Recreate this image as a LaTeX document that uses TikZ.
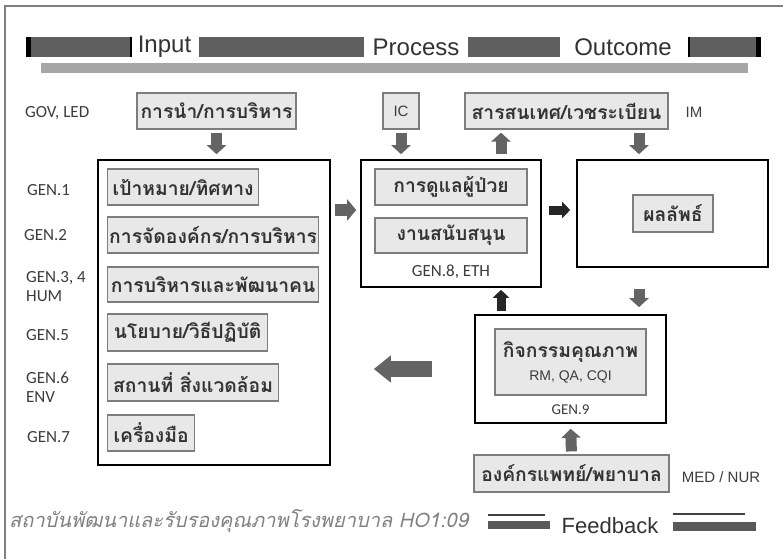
\documentclass[tikz,border=0pt]{standalone}
\usepackage{fontspec}
\usepackage{tikz}
\usetikzlibrary{arrows.meta,positioning,calc}
\newfontfamily\thaifont[Script=Thai]{Loma}
\newfontfamily\thaislant[Script=Thai,FakeSlant=0.22]{Loma}
\newfontfamily\genfont{Carlito}
\newfontfamily\helvfont{Liberation Sans}
\definecolor{boxgrey}{RGB}{232,232,232}
\definecolor{edgegrey}{RGB}{125,125,125}
\definecolor{arrowgrey}{RGB}{100,100,100}
\definecolor{bargrey}{RGB}{95,95,95}
\definecolor{textgrey}{RGB}{60,60,60}

\begin{document}
\begin{tikzpicture}[x=1pt, y=-1pt,
    thbox/.style={draw=edgegrey, fill=boxgrey, line width=1.2pt, inner sep=0pt,
                  minimum height=36pt, font=\thaifont\bfseries\fontsize{19.3}{21}\selectfont, text=black!80},
    frame/.style={draw=black, line width=1.6pt, fill=white, inner sep=0pt},
    gen/.style={anchor=west, font=\genfont\fontsize{17}{19}\selectfont, text=textgrey,
                align=left, inner sep=0pt},
    helv/.style={font=\helvfont\fontsize{15}{17}\selectfont, text=textgrey, inner sep=0pt},
    blk/.style={line width=11pt, arrowgrey, -{Triangle[width=19pt,length=9pt]}},
    bigblk/.style={line width=16pt, arrowgrey, -{Triangle[width=26pt,length=17pt]}},
    darkblk/.style={line width=9pt, black!85, -{Triangle[width=16pt,length=8pt]}},
    topbar/.style={fill=bargrey, draw=none},
    toptext/.style={font=\helvfont\fontsize{24}{26}\selectfont, text=black!80, inner sep=0pt}
]
\useasboundingbox (0,0) rectangle (783,559);
\draw[gray, line width=1.2pt] (5,559) -- (5,6) -- (783,6);

% title bar
\fill[topbar] (26,37) rectangle (132,57);
\fill[black] (26,37) rectangle (31,57);
\fill[black] (130,37) rectangle (132,57);
\node[toptext] (input)   at (164.5,47) {Input};
\fill[topbar] (199,37) rectangle (364,57);
\node[toptext] (process) at (416,47)   {Process};
\fill[topbar] (468,37) rectangle (560,57);
\node[toptext] (outcome) at (623,47)   {Outcome};
\fill[topbar] (688,37) rectangle (761,57);
\fill[black] (688,37) rectangle (690,57);
\fill[black] (756,37) rectangle (761,57);
\fill[gray!70] (41,63) rectangle (748,73);

% frames
\node[frame, minimum width=232pt, minimum height=305pt] (inputs) at (214,312.5) {};
\node[frame, minimum width=180pt, minimum height=127pt] (proc)   at (451,223.5) {};
\node[frame, minimum width=191pt, minimum height=107pt] (result) at (672.5,213.5) {};
\node[frame, minimum width=191pt, minimum height=108pt] (qbox)   at (570.5,369) {};

% top row
\node[thbox, minimum width=159pt] (lead) at (216.5,111) {การนำ/การบริหาร};
\node[thbox, minimum width=36pt, font=\helvfont\fontsize{15}{17}\selectfont, text=textgrey] (ic) at (401,111) {IC};
\node[thbox, minimum width=203pt] (info) at (566.5,111) {สารสนเทศ/เวชระเบียน};
\node[helv] (im) at (694,112) {IM};
\node[gen] (gov) at (25,113) {GOV, LED};

% input side
\node[thbox, anchor=west, minimum width=151pt] (goal)    at (107,187)   {เป้าหมาย/ทิศทาง};
\node[thbox, anchor=west, minimum width=211pt] (orgmgmt) at (107,235)   {การจัดองค์กร/การบริหาร};
\node[thbox, anchor=west, minimum width=211pt, minimum height=35pt] (hrd) at (107,284.5) {การบริหารและพัฒนาคน};
\node[thbox, anchor=west, minimum width=160pt, minimum height=37pt] (policy) at (107,332.5) {นโยบาย/วิธีปฏิบัติ};
\node[thbox, anchor=west, minimum width=171pt, minimum height=37pt] (envbox) at (107,382.5) {สถานที่ สิ่งแวดล้อม};
\node[thbox, anchor=west, minimum width=87pt] (tools)   at (107,433)   {เครื่องมือ};

\node[gen] (gen1) at (27,190) {GEN.1};
\node[gen] (gen2) at (24,235) {GEN.2};
\node[gen] (gen34) at (26,287) {GEN.3, 4\\HUM};
\node[gen] (gen5) at (26,335) {GEN.5};
\node[gen] (gen6) at (26,387) {GEN.6\\ENV};
\node[gen] (gen7) at (27,437) {GEN.7};

% process and outcome
\node[thbox, minimum width=152pt] (care)    at (451,187)   {การดูแลผู้ป่วย};
\node[thbox, minimum width=152pt, minimum height=35pt] (support) at (451,235.5) {งานสนับสนุน};
\node[gen, anchor=center] (gen8) at (451,272) {GEN.8, ETH};
\node[thbox, minimum width=80pt, minimum height=37pt] (res) at (673,213.5) {ผลลัพธ์};

% quality
\node[thbox, minimum width=151pt, minimum height=66pt, align=center] (qact) at (570.5,362)
    {กิจกรรมคุณภาพ\\[2pt]{\helvfont\mdseries\fontsize{14}{16}\selectfont\color{textgrey}RM, QA, CQI}};
\node[gen, anchor=center, font=\genfont\fontsize{15}{17}\selectfont] (gen9) at (570.5,410) {GEN.9};
\node[thbox, minimum width=195pt, minimum height=37pt] (org) at (571.5,473.5) {องค์กรแพทย์/พยาบาล};
\node[helv] (mednur) at (721,477) {MED / NUR};

% arrows
\coordinate (upx) at (501,0);
\coordinate (dnx) at (639,0);
\coordinate (midrow) at (0,210);
\draw[blk, shorten <=3pt, shorten >=5pt] (lead.south) -- (lead.south |- inputs.north);
\draw[blk, shorten <=3pt, shorten >=5pt] (ic.south) -- (ic.south |- proc.north);
\draw[blk, shorten <=5pt, shorten >=3pt] (upx |- proc.north) -- (upx |- info.south);
\draw[blk, shorten <=3pt, shorten >=5pt] (dnx |- info.south) -- (dnx |- result.north);
\draw[blk, line width=12pt, -{Triangle[width=21pt,length=9pt]}, shorten <=4pt, shorten >=4pt]
    (inputs.east |- midrow) -- (proc.west |- midrow);
\draw[darkblk, shorten <=7pt, shorten >=6pt] (proc.east |- midrow) -- (result.west |- midrow);
\draw[blk, shorten <=21pt, shorten >=7pt] (dnx |- result.south) -- (dnx |- qbox.north);
\draw[darkblk, shorten <=3pt, shorten >=2pt] (upx |- qbox.north) -- (upx |- proc.south);
\draw[bigblk, shorten <=42pt, shorten >=43pt] (qbox.west) -- (inputs.east |- qbox.west);
\draw[blk, shorten <=3pt, shorten >=5pt] (org.north) -- (qbox.south);

% footer
\node[anchor=west, inner sep=0pt, font=\thaislant\fontsize{20}{22}\selectfont, text=gray]
    (credit) at (9,521) {สถาบันพัฒนาและรับรองคุณภาพโรงพยาบาล HO1:09};
\node[toptext, font=\helvfont\fontsize{22}{24}\selectfont] (fb) at (610,526) {Feedback};
\fill[black!75] (488,514) rectangle (545,516);
\fill[black!65] (488,521) rectangle (550,529);
\fill[black!75] (673,513) rectangle (745,515);
\fill[black!65] (673,522) rectangle (756,531);
\end{tikzpicture}
\end{document}
